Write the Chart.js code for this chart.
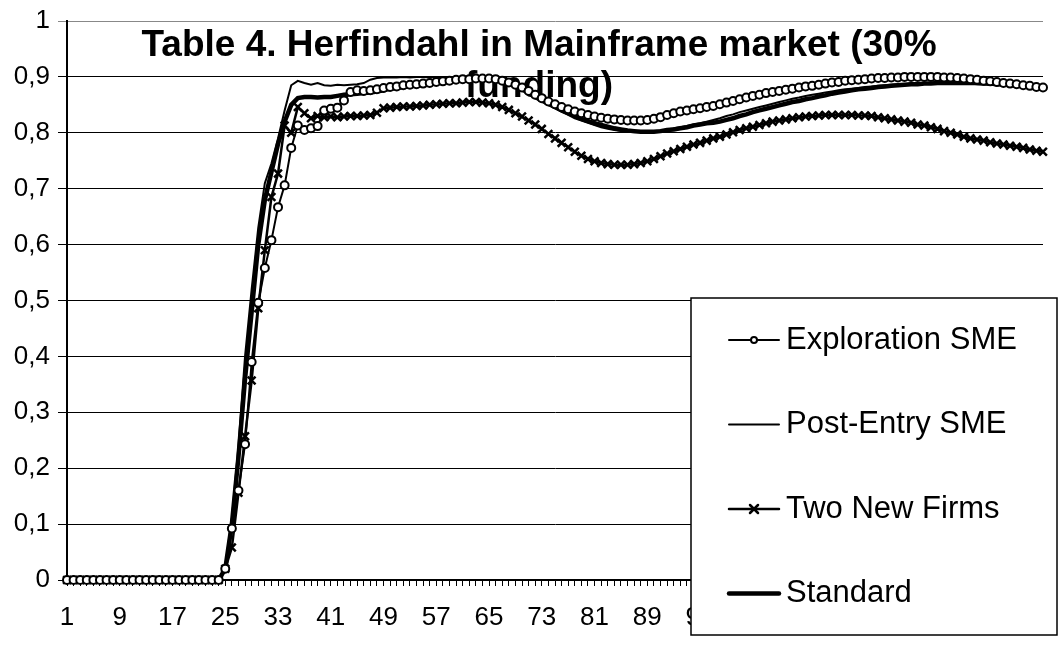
<!DOCTYPE html>
<html>
<head>
<meta charset="utf-8">
<title>Herfindahl in Mainframe market</title>
<script src="https://cdn.jsdelivr.net/npm/chart.js@4"></script>
<style>
  body { margin: 0; background: #fff; }
  #wrap { width: 1059px; height: 646px; }
</style>
</head>
<body>
<div id="wrap"><canvas id="chart" width="1059" height="646"></canvas></div>
<script>
const titleLines = ['Table 4. Herfindahl in Mainframe market (30%', 'funding)'];

// simulation periods 1..149
const periods = Array.from({ length: 149 }, (_, i) => String(i + 1));
const xTickLabels = ['1', '9', '17', '25', '33', '41', '49', '57', '65', '73', '81', '89', '97', '105', '113', '121', '129', '137', '145'];
const yTickLabels = ['0', '0,1', '0,2', '0,3', '0,4', '0,5', '0,6', '0,7', '0,8', '0,9', '1'];

const explorationSME = [
  0, 0, 0, 0, 0, 0, 0, 0, 0, 0,
  0, 0, 0, 0, 0, 0, 0, 0, 0, 0,
  0, 0, 0, 0, 0.02, 0.092, 0.16, 0.243, 0.39, 0.496,
  0.558, 0.608, 0.667, 0.706, 0.773, 0.813, 0.805, 0.808, 0.812, 0.84,
  0.843, 0.845, 0.858, 0.873, 0.876, 0.875, 0.876, 0.878, 0.88, 0.882,
  0.883, 0.885, 0.886, 0.887, 0.888, 0.889, 0.891, 0.892, 0.893, 0.895,
  0.896, 0.896, 0.897, 0.897, 0.897, 0.896, 0.893, 0.89, 0.886, 0.881,
  0.875, 0.868, 0.862, 0.856, 0.851, 0.846, 0.842, 0.838, 0.835, 0.832,
  0.829, 0.827, 0.825, 0.824, 0.823, 0.822, 0.822, 0.822, 0.823, 0.825,
  0.828, 0.832, 0.835, 0.838, 0.84, 0.842, 0.844, 0.846, 0.848, 0.851,
  0.854, 0.857, 0.86, 0.863, 0.866, 0.868, 0.871, 0.873, 0.875, 0.877,
  0.879, 0.881, 0.883, 0.884, 0.886, 0.888, 0.89, 0.891, 0.893, 0.894,
  0.895, 0.896, 0.897, 0.898, 0.898, 0.899, 0.899, 0.9, 0.9, 0.9,
  0.9, 0.9, 0.9, 0.899, 0.899, 0.898, 0.897, 0.896, 0.895, 0.893,
  0.892, 0.891, 0.889, 0.888, 0.887, 0.885, 0.884, 0.882, 0.881
];

const postEntrySME = [
  0, 0, 0, 0, 0, 0, 0, 0, 0, 0,
  0, 0, 0, 0, 0, 0, 0, 0, 0, 0,
  0, 0, 0, 0, 0.025, 0.11, 0.24, 0.4, 0.52, 0.63,
  0.71, 0.745, 0.79, 0.84, 0.885, 0.893, 0.889, 0.886, 0.889, 0.885,
  0.884, 0.886, 0.885, 0.886, 0.887, 0.889, 0.895, 0.898, 0.899, 0.899,
  0.899, 0.9, 0.899, 0.9, 0.9, 0.899, 0.9, 0.9, 0.9, 0.9,
  0.9, 0.9, 0.9, 0.9, 0.899, 0.898, 0.896, 0.892, 0.886, 0.88,
  0.872, 0.865, 0.857, 0.85, 0.844, 0.838, 0.832, 0.826, 0.822, 0.818,
  0.814, 0.81, 0.807, 0.805, 0.803, 0.802, 0.801, 0.801, 0.801, 0.802,
  0.804, 0.806, 0.808, 0.81, 0.812, 0.815, 0.817, 0.82, 0.823, 0.826,
  0.83, 0.833, 0.837, 0.84, 0.843, 0.846, 0.849, 0.852, 0.855, 0.858,
  0.861, 0.863, 0.866, 0.868, 0.87, 0.872, 0.874, 0.876, 0.878, 0.879,
  0.88, 0.882, 0.883, 0.884, 0.885, 0.886, 0.887, 0.887, 0.888, 0.888,
  0.889, 0.889, 0.889, 0.889, 0.889, 0.889, 0.888, 0.888, 0.887, 0.887,
  0.886, 0.885, 0.885, 0.884, 0.883, 0.883, 0.882, 0.881, 0.88
];

const twoNewFirms = [
  0, 0, 0, 0, 0, 0, 0, 0, 0, 0,
  0, 0, 0, 0, 0, 0, 0, 0, 0, 0,
  0, 0, 0, 0, 0.02, 0.058, 0.156, 0.257, 0.357, 0.486,
  0.59, 0.685, 0.727, 0.813, 0.8, 0.846, 0.835, 0.826, 0.83, 0.828,
  0.829, 0.828, 0.829, 0.83, 0.83, 0.831, 0.832, 0.836, 0.844, 0.845,
  0.846, 0.847, 0.847, 0.848, 0.849, 0.85, 0.851, 0.852, 0.853, 0.853,
  0.854, 0.855, 0.855, 0.854, 0.853, 0.85, 0.846, 0.841, 0.835, 0.829,
  0.822, 0.815, 0.807, 0.798, 0.79, 0.782, 0.774, 0.766, 0.759, 0.753,
  0.749, 0.746, 0.744, 0.743, 0.743, 0.743, 0.744, 0.746, 0.749, 0.753,
  0.758, 0.763, 0.767, 0.771, 0.775, 0.779, 0.782, 0.786, 0.79, 0.793,
  0.797, 0.801, 0.805, 0.808, 0.811, 0.814, 0.817, 0.82, 0.822, 0.824,
  0.826, 0.828, 0.829, 0.83, 0.831, 0.832, 0.832, 0.832, 0.832, 0.832,
  0.831, 0.831, 0.83, 0.828, 0.826, 0.824, 0.822, 0.82, 0.818, 0.815,
  0.813, 0.81, 0.807, 0.803, 0.8, 0.797, 0.793, 0.79, 0.788, 0.786,
  0.783, 0.781, 0.779, 0.777, 0.775, 0.773, 0.77, 0.768, 0.766
];

const standard = [
  0, 0, 0, 0, 0, 0, 0, 0, 0, 0,
  0, 0, 0, 0, 0, 0, 0, 0, 0, 0,
  0, 0, 0, 0, 0.02, 0.1, 0.22, 0.36, 0.48, 0.6,
  0.68, 0.73, 0.78, 0.82, 0.85, 0.862, 0.864, 0.864, 0.863, 0.864,
  0.864, 0.866, 0.868, 0.869, 0.87, 0.871, 0.872, 0.874, 0.876, 0.879,
  0.88, 0.882, 0.883, 0.885, 0.886, 0.888, 0.889, 0.891, 0.893, 0.895,
  0.896, 0.897, 0.898, 0.898, 0.898, 0.897, 0.894, 0.89, 0.884, 0.878,
  0.871, 0.864, 0.858, 0.852, 0.846, 0.84, 0.835, 0.83, 0.825, 0.821,
  0.817, 0.814, 0.811, 0.808, 0.806, 0.804, 0.803, 0.802, 0.802, 0.802,
  0.803, 0.805, 0.806, 0.808, 0.81, 0.813, 0.815, 0.817, 0.818, 0.82,
  0.823, 0.826, 0.83, 0.833, 0.837, 0.84, 0.843, 0.846, 0.849, 0.852,
  0.855, 0.857, 0.86, 0.862, 0.865, 0.867, 0.87, 0.872, 0.874, 0.876,
  0.878, 0.879, 0.88, 0.882, 0.883, 0.884, 0.885, 0.886, 0.887, 0.887,
  0.888, 0.888, 0.889, 0.889, 0.889, 0.889, 0.889, 0.889, 0.889, 0.888,
  0.888, 0.887, 0.887, 0.886, 0.885, 0.884, 0.883, 0.882, 0.881
];

const FONT = '"Liberation Sans", Arial, sans-serif';
Chart.defaults.font.family = FONT;
Chart.defaults.color = '#000';

// two-line title sits inside the plot, under the lines
const plotTitle = {
  id: 'plotTitle',
  beforeDatasetsDraw(chart) {
    const ctx = chart.ctx;
    ctx.save();
    ctx.font = 'bold 37px ' + FONT;
    ctx.fillStyle = '#000';
    ctx.textAlign = 'center';
    ctx.textBaseline = 'alphabetic';
    ctx.fillText(titleLines[0], 539, 56);
    ctx.fillText(titleLines[1], 539, 97);
    ctx.restore();
  }
};

// boxed legend drawn over the lower right of the plot
const boxLegend = {
  id: 'boxLegend',
  afterDraw(chart) {
    const ctx = chart.ctx;
    const bx = 691, by = 298, bw = 366, bh = 337;
    ctx.save();
    ctx.fillStyle = '#fff';
    ctx.fillRect(bx, by, bw, bh);
    ctx.strokeStyle = '#000';
    ctx.lineWidth = 1.5;
    ctx.strokeRect(bx, by, bw, bh);
    ctx.font = '31px ' + FONT;
    ctx.textBaseline = 'middle';
    ctx.textAlign = 'left';
    chart.data.datasets.forEach((ds, i) => {
      const y = by + 42 + i * 84.5;
      ctx.strokeStyle = '#000';
      ctx.lineWidth = ds.borderWidth;
      ctx.lineCap = 'round';
      ctx.beginPath();
      ctx.moveTo(729, y);
      ctx.lineTo(779, y);
      ctx.stroke();
      if (ds.pointStyle === 'circle') {
        ctx.fillStyle = '#fff';
        ctx.lineWidth = 2;
        ctx.beginPath();
        ctx.arc(754, y, 3, 0, Math.PI * 2);
        ctx.fill();
        ctx.stroke();
      } else if (ds.pointStyle === 'crossRot') {
        ctx.lineWidth = 2.5;
        ctx.beginPath();
        ctx.moveTo(750, y - 4);
        ctx.lineTo(758, y + 4);
        ctx.moveTo(750, y + 4);
        ctx.lineTo(758, y - 4);
        ctx.stroke();
      }
      ctx.fillStyle = '#000';
      ctx.fillText(ds.label, 786, y);
    });
    ctx.restore();
  }
};

const ctx = document.getElementById('chart').getContext('2d');
new Chart(ctx, {
  type: 'line',
  data: {
    labels: periods,
    datasets: [
      {
        label: 'Exploration SME',
        data: explorationSME,
        borderColor: '#000',
        borderWidth: 2,
        pointStyle: 'circle',
        pointRadius: 4,
        pointBorderWidth: 2,
        pointBorderColor: '#000',
        pointBackgroundColor: '#fff'
      },
      {
        label: 'Post-Entry SME',
        data: postEntrySME,
        borderColor: '#000',
        borderWidth: 2,
        pointRadius: 0
      },
      {
        label: 'Two New Firms',
        data: twoNewFirms,
        borderColor: '#000',
        borderWidth: 2.5,
        pointStyle: 'crossRot',
        pointRadius: 5.5,
        pointBorderWidth: 2.5,
        pointBorderColor: '#000',
        pointBackgroundColor: '#000'
      },
      {
        label: 'Standard',
        data: standard,
        borderColor: '#000',
        borderWidth: 4.5,
        pointRadius: 0
      }
    ]
  },
  options: {
    responsive: false,
    animation: false,
    clip: false,
    elements: { line: { tension: 0 } },
    layout: { padding: { top: 20, right: 0, left: 0, bottom: 0 } },
    plugins: {
      legend: { display: false },
      title: { display: false },
      tooltip: { enabled: false }
    },
    scales: {
      x: {
        offset: false,
        afterFit: (scale) => { scale.height = 66; },
        grid: {
          display: true,
          drawOnChartArea: false,
          drawTicks: true,
          tickLength: 6,
          color: '#000',
          lineWidth: 1
        },
        border: { color: '#000', width: 1.5 },
        ticks: {
          autoSkip: false,
          maxRotation: 0,
          minRotation: 0,
          padding: 16,
          font: { size: 26 },
          callback: (value, index) => {
            const lbl = periods[index];
            return xTickLabels.includes(lbl) ? lbl : '';
          }
        }
      },
      y: {
        min: 0,
        max: 1,
        afterFit: (scale) => { scale.width = 67; },
        grid: {
          color: (c) => (c.tick && c.tick.value === 1 ? '#888' : '#000'),
          lineWidth: 1,
          drawTicks: true,
          tickLength: 9,
        },
        border: { color: '#000', width: 2 },
        ticks: {
          stepSize: 0.1,
          padding: 8,
          font: { size: 26, lineHeight: 1 },
          callback: (value, index) => yTickLabels[index]
        }
      }
    }
  },
  plugins: [plotTitle, boxLegend]
});
</script>
</body>
</html>
